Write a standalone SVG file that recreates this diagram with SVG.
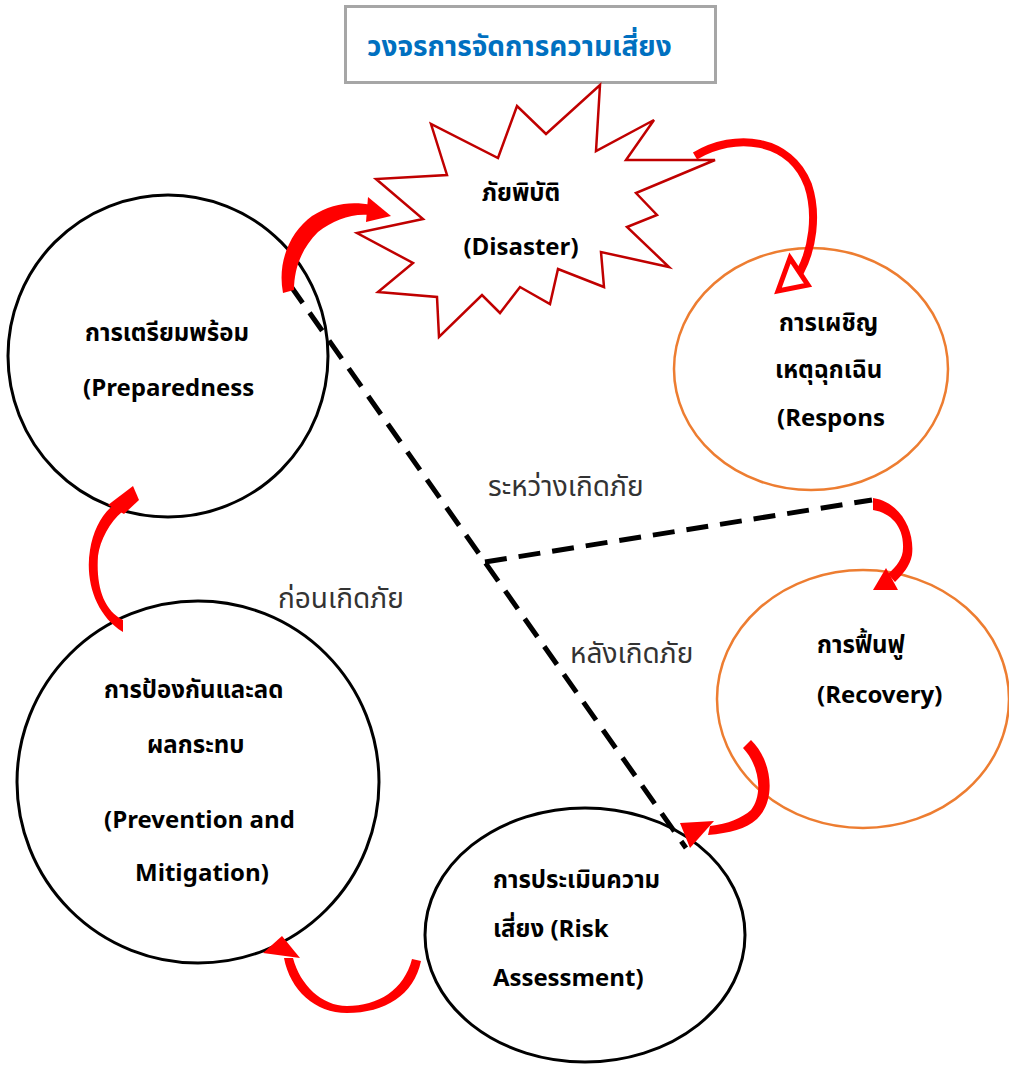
<svg xmlns="http://www.w3.org/2000/svg" width="1009" height="1065" viewBox="0 0 1009 1065">
<style>
text{font-family:"Noto Sans Thai","Noto Sans","DejaVu Sans",sans-serif;fill:#000}
.lbl{font-size:24px;font-weight:bold}
.phase{font-size:28px;fill:#333}
.blk{fill:#fff;stroke:#000;stroke-width:3}
.org{fill:#fff;stroke:#ED7D31;stroke-width:2.5}
.ar{fill:#FF0000;stroke:none}
.dash{stroke:#000;stroke-width:5;stroke-dasharray:22 12;fill:none}
</style>
<rect width="1009" height="1065" fill="#fff"/>
<g id="title">
<rect x="345.5" y="6.5" width="370" height="76" fill="#fff" stroke="#A6A6A6" stroke-width="3"/>
<text x="367" y="56" style="font-size:28px;font-weight:bold;fill:#0070C0">วงจรการจัดการความเสี่ยง</text>
</g>
<g id="disaster">
<polygon points="600,85 596,151 654,120 626,160 715,160 636,193 657,215 627,227 669,267 601,252 604,287 558,269 550,304 520,287 500,313 482,295 439,337 437,297 378,292 413,263 357,233 423,219 376,179 447,175 431,124 498,158 517,106 546,134" fill="#fff" stroke="#C00000" stroke-width="2.5"/>
<text class="lbl" x="521" y="201" text-anchor="middle">ภัยพิบัติ</text>
<text class="lbl" x="521" y="255" text-anchor="middle">(Disaster)</text>
</g>
<g id="preparedness">
<ellipse class="blk" cx="168" cy="356" rx="160" ry="161"/>
<text class="lbl" x="85" y="341">การเตรียมพร้อม</text>
<text class="lbl" x="83" y="396">(Preparedness</text>
</g>
<g id="prevention">
<circle class="blk" cx="198" cy="782" r="181"/>
<text class="lbl" x="104" y="698">การป้องกันและลด</text>
<text class="lbl" x="147" y="753">ผลกระทบ</text>
<text class="lbl" x="104" y="828">(Prevention and</text>
<text class="lbl" x="135" y="881">Mitigation)</text>
</g>
<g id="risk">
<ellipse class="blk" cx="585" cy="935" rx="160" ry="127"/>
<text class="lbl" x="493" y="888">การประเมินความ</text>
<text class="lbl" x="493" y="937">เสี่ยง (Risk</text>
<text class="lbl" x="493" y="986">Assessment)</text>
</g>
<g id="response">
<ellipse class="org" cx="811" cy="369" rx="137" ry="121"/>
<text class="lbl" x="779" y="331">การเผชิญ</text>
<text class="lbl" x="775" y="378">เหตุฉุกเฉิน</text>
<text class="lbl" x="777" y="426">(Respons</text>
</g>
<g id="recovery">
<ellipse class="org" cx="863" cy="699" rx="146" ry="129"/>
<text class="lbl" x="817" y="653">การฟื้นฟู</text>
<text class="lbl" x="817" y="703">(Recovery)</text>
</g>
<g id="phases">
<text class="phase" x="488" y="496">ระหว่างเกิดภัย</text>
<text class="phase" x="278" y="608">ก่อนเกิดภัย</text>
<text class="phase" x="570" y="663">หลังเกิดภัย</text>
</g>
<g id="connectors">
<path class="dash" d="M290,285 L686,848"/>
<path class="dash" d="M485,562 L872,500"/>
<path class="ar" d="M283,293 C277,262 290,232 312,216 C332,203 352,201 372,205 L370,215 C352,213 333,220 318,232 C302,248 294,268 294,290 Z"/>
<polygon class="ar" points="368,197 391,216 366,222"/>
<path d="M695,156 C735,132 790,138 808,185 C818,215 812,250 800,272" fill="none" stroke="#FF0000" stroke-width="8"/>
<polygon points="790,258 808,285 778,291" fill="#fff" stroke="#FF0000" stroke-width="5"/>
<path class="ar" d="M873,498 C900,502 915,530 912,555 C910,566 903,574 895,582 L888,574 C897,566 903,558 903,548 C904,528 892,513 873,510 Z"/>
<polygon class="ar" points="886,568 898,590 873,590"/>
<path class="ar" d="M743,748 L751,740 C772,760 777,800 757,819 C746,829 730,833 708,835 L710,826 C728,824 742,818 751,810 C763,795 760,766 743,748 Z"/>
<polygon class="ar" points="680,823 714,821 690,848"/>
<path class="ar" d="M412,959 L421,961 C414,995 385,1013 347,1013 C315,1013 290,990 284,958 L293,958 C300,985 322,1006 347,1006 C378,1006 404,990 412,959 Z"/>
<polygon class="ar" points="282,936 263,953 300,958"/>
<path class="ar" d="M123,632 C95,615 85,580 90,550 C93,530 103,512 115,504 L122,512 C110,522 100,540 98,556 C96,585 103,610 123,620 Z"/>
<polygon class="ar" points="108,505 133,486 139,500 124,514"/>
</g>
</svg>
